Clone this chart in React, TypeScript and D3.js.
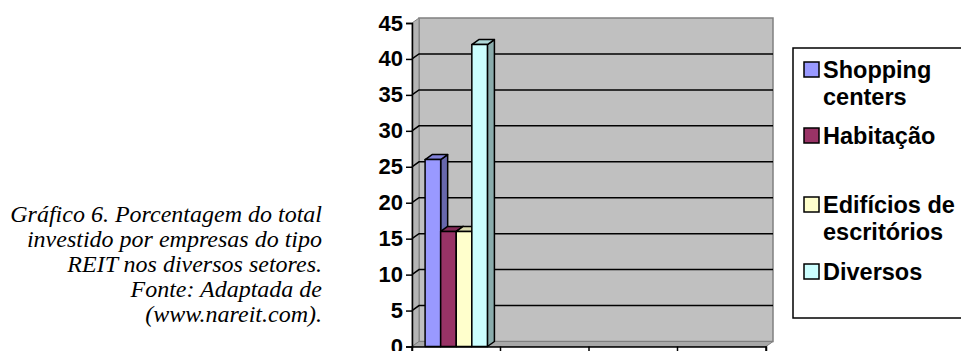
import React, { useEffect, useRef } from 'react';
import * as d3 from 'd3';

// categories on the x axis (only the first holds data)
const categories = ['c1', 'c2', 'c3', 'c4'];
const seriesNames = ['Shopping centers', 'Habitação', 'Edifícios de escritórios', 'Diversos'];
const seriesValues = [26, 16, 16, 42];
const seriesColors = ['#9999FF', '#993366', '#FFFFCC', '#CCFFFF'];
const legendLines = [['Shopping', 'centers'], ['Habitação'], ['Edifícios de', 'escritórios'], ['Diversos']];
const yTicks = [0, 5, 10, 15, 20, 25, 30, 35, 40, 45];
const captionLines = [
  'Gráfico 6. Porcentagem do total',
  'investido por empresas do tipo',
  'REIT nos diversos setores.',
  'Fonte: Adaptada de',
  '(www.nareit.com).',
];

const App = () => {
  const svgRef = useRef<SVGSVGElement>(null);

  useEffect(() => {
    const svg = d3.select(svgRef.current);
    svg.selectAll('*').remove();

    const width = 961;
    const height = 351;
    const plot = { left: 412, right: 766, top: 23, bottom: 346.5 };
    const depth = { dx: 7, dy: -5 };
    const font = '"Liberation Sans", Arial, sans-serif';

    const x = d3.scaleBand().domain(categories).range([plot.left, plot.right]);
    const xInner = d3.scaleBand().domain(seriesNames).range([0, x.bandwidth()])
      .paddingInner(0).paddingOuter(0.84);
    const y = d3.scaleLinear().domain([0, 45]).range([plot.bottom, plot.top]);

    // back wall
    svg.append('rect')
      .attr('x', plot.left + depth.dx)
      .attr('y', y(45) + depth.dy)
      .attr('width', plot.right - plot.left)
      .attr('height', y(0) - y(45))
      .attr('fill', '#C0C0C0')
      .attr('stroke', '#808080')
      .attr('stroke-width', 1.5);

    // left side wall
    svg.append('path')
      .attr('d', `M${plot.left},${y(0)} L${plot.left},${y(45)} L${plot.left + depth.dx},${y(45) + depth.dy} L${plot.left + depth.dx},${y(0) + depth.dy} Z`)
      .attr('fill', '#B4B4B4')
      .attr('stroke', '#808080')
      .attr('stroke-width', 1);

    // floor
    svg.append('path')
      .attr('d', `M${plot.left},${y(0)} L${plot.right},${y(0)} L${plot.right + depth.dx},${y(0) + depth.dy} L${plot.left + depth.dx},${y(0) + depth.dy} Z`)
      .attr('fill', '#A8A8A8')
      .attr('stroke', '#808080')
      .attr('stroke-width', 1);

    // gridlines on back wall + short slants across the side wall
    const grid = svg.append('g').attr('stroke', '#000').attr('stroke-width', 1.5).attr('fill', 'none');
    grid.selectAll('path')
      .data(yTicks.filter(d => d > 0 && d < 45))
      .enter()
      .append('path')
      .attr('d', d => `M${plot.left},${y(d)} L${plot.left + depth.dx},${y(d) + depth.dy} L${plot.right + depth.dx},${y(d) + depth.dy}`);

    // 3D bars
    const bars = svg.append('g');
    seriesNames.forEach((name, i) => {
      const x0 = (x(categories[0]) as number) + (xInner(name) as number);
      const w = xInner.bandwidth();
      const yt = y(seriesValues[i]);
      const yb = y(0);
      const base = d3.color(seriesColors[i]) as d3.RGBColor;
      const g = bars.append('g').attr('stroke', '#000').attr('stroke-width', 1.5).attr('stroke-linejoin', 'round');
      // side face
      g.append('path')
        .attr('d', `M${x0 + w},${yb} L${x0 + w},${yt} L${x0 + w + depth.dx},${yt + depth.dy} L${x0 + w + depth.dx},${yb + depth.dy} Z`)
        .attr('fill', base.darker(1.1).formatHex());
      // top face
      g.append('path')
        .attr('d', `M${x0},${yt} L${x0 + w},${yt} L${x0 + w + depth.dx},${yt + depth.dy} L${x0 + depth.dx},${yt + depth.dy} Z`)
        .attr('fill', base.darker(0.45).formatHex());
      // front face
      g.append('rect')
        .attr('x', x0)
        .attr('y', yt)
        .attr('width', w)
        .attr('height', yb - yt)
        .attr('fill', seriesColors[i]);
    });

    // y axis
    const yAxis = svg.append('g')
      .attr('transform', `translate(${plot.left},0)`)
      .call(d3.axisLeft(y).tickValues(yTicks).tickSize(6).tickPadding(3));
    yAxis.select('.domain').attr('stroke', '#000').attr('stroke-width', 1.5);
    yAxis.selectAll('.tick line').attr('stroke', '#000').attr('stroke-width', 1.5);
    yAxis.selectAll('text')
      .attr('fill', '#000')
      .style('font-family', font)
      .style('font-weight', 'bold')
      .style('font-size', '22px');

    // x axis
    const xAxis = svg.append('g')
      .attr('transform', `translate(0,${y(0)})`)
      .call(d3.axisBottom(x).tickSize(6).tickFormat(() => ''));
    xAxis.select('.domain').attr('stroke', '#000').attr('stroke-width', 1.5);
    xAxis.selectAll('.tick line')
      .attr('stroke', '#000')
      .attr('stroke-width', 1.5)
      .attr('transform', `translate(${-x.bandwidth() / 2},0)`);
    xAxis.append('line')
      .attr('x1', plot.right).attr('x2', plot.right)
      .attr('y1', 0).attr('y2', 6)
      .attr('stroke', '#000').attr('stroke-width', 1.5);

    // legend
    const legend = svg.append('g');
    legend.append('rect')
      .attr('x', 793)
      .attr('y', 48)
      .attr('width', 180)
      .attr('height', 270)
      .attr('fill', '#fff')
      .attr('stroke', '#000')
      .attr('stroke-width', 1.5);
    const entryY = [78, 144, 213, 280];
    const lineH = 27;
    legendLines.forEach((lines, i) => {
      const by = entryY[i];
      legend.append('rect')
        .attr('x', 804)
        .attr('y', by - 16)
        .attr('width', 15)
        .attr('height', 15)
        .attr('fill', seriesColors[i])
        .attr('stroke', '#000')
        .attr('stroke-width', 1.5);
      lines.forEach((t, j) => {
        legend.append('text')
          .attr('x', 823)
          .attr('y', by + j * lineH)
          .style('font-family', font)
          .style('font-weight', 'bold')
          .style('font-size', '23.5px')
          .text(t);
      });
    });

    // caption
    svg.append('g')
      .selectAll('text')
      .data(captionLines)
      .enter()
      .append('text')
      .attr('x', 322)
      .attr('y', (d, i) => 222 + i * 25)
      .attr('text-anchor', 'end')
      .style('font-family', '"Liberation Serif", "Times New Roman", serif')
      .style('font-style', 'italic')
      .style('font-size', '24px')
      .text(d => d);

    svg.attr('width', width).attr('height', height);
  }, []);

  return (
    <svg ref={svgRef} width={961} height={351} style={{ position: 'absolute', left: 0, top: 0, background: '#fff' }}></svg>
  );
};

export default App;
